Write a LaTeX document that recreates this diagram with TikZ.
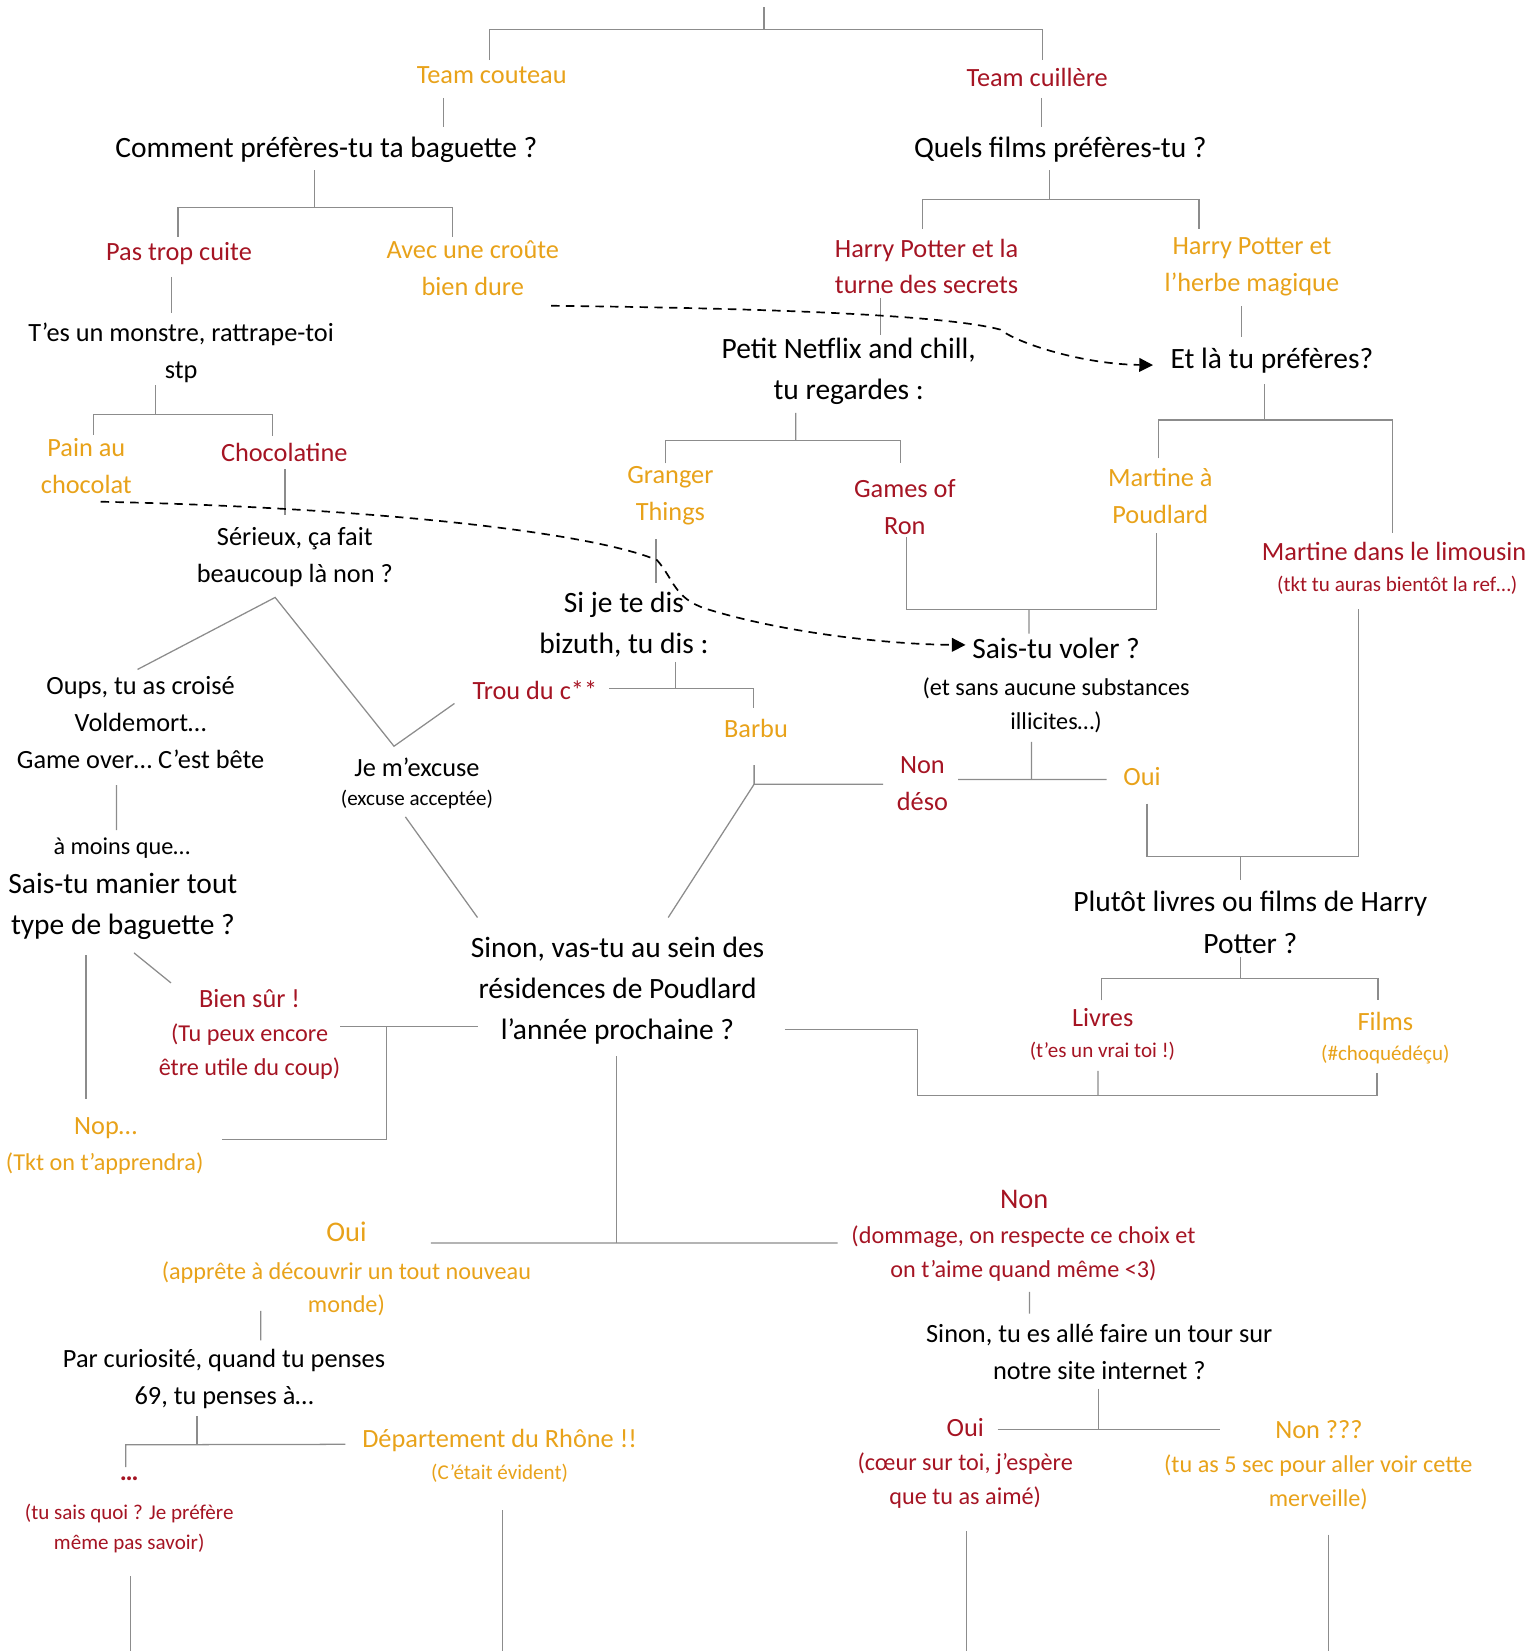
\documentclass[tikz,border=0pt]{standalone}
\usepackage{fontspec}
\setmainfont{Carlito}
\usetikzlibrary{calc,arrows.meta}
\definecolor{ocre}{RGB}{232,162,26}
\definecolor{bordeaux}{RGB}{165,20,35}
\definecolor{trait}{RGB}{140,140,140}
\tikzset{
  every node/.style={align=center, inner sep=0pt},
  quest/.style={font=\fontsize{14}{19.5}\selectfont},
  questp/.style={font=\fontsize{12.5}{17.6}\selectfont},
  rep/.style={font=\fontsize{12.5}{17.5}\selectfont},
  repg/.style={font=\fontsize{13.5}{18}\selectfont},
  note/.style={font=\fontsize{11.5}{16}\selectfont},
  petit/.style={font=\fontsize{10}{14.2}\selectfont},
  jaune/.style={text=ocre},
  rouge/.style={text=bordeaux},
  lien/.style={draw=trait, line width=0.6pt},
  saut/.style={draw=black, line width=0.8pt, dash pattern=on 4pt off 3pt, -{Triangle[length=6.5pt,width=6.5pt]}},
}
\begin{document}
\begin{tikzpicture}[x=0.5pt, y=-0.5pt]
\useasboundingbox (0,0) rectangle (1462,1568);

% questions et reponses
\node[rep,jaune] (tcout) at (467,71) {Team couteau};
\node[rep,rouge] (tcuil) at (985,73.5) {Team cuillère};
\node[quest] (comment) at (310,142.5) {Comment préfères-tu ta baguette ?};
\node[quest] (quels) at (1007,142.5) {Quels films préfères-tu ?};
\node[rep,rouge] (pastrop) at (170,240.7) {Pas trop cuite};
\node[rep,jaune] (croute) at (449,255) {Avec une croûte\\bien dure};
\node[rep,rouge] (hpturne) at (880,253) {Harry Potter et la\\turne des secrets};
\node[rep,jaune] (hpherbe) at (1189,253.7) {Harry Potter et\\l’herbe magique};
\node[questp] (monstre) at (172,335) {T’es un monstre, rattrape-toi\\stp};
\node[quest] (netflix) at (806,353) {Petit Netflix and chill,\\tu regardes :};
\node[quest] (etla) at (1208,342.6) {Et là tu préfères?};
\node[rep,jaune] (pain) at (82,442.5) {Pain au\\chocolat};
\node[rep,rouge] (choco) at (270,429.7) {Chocolatine};
\node[rep,jaune] (granger) at (636.7,471) {Granger\\Things};
\node[rep,rouge] (games) at (859.3,481.2) {Games of\\Ron};
\node[rep,jaune] (martP) at (1102,471) {Martine à\\Poudlard};
\node[rep,rouge] (martL) at (1324,524) {Martine dans le limousin};
\node[petit,rouge] (martLn) at (1327,555.7) {(tkt tu auras bientôt la ref…)};
\node[questp] (serieux) at (280,529) {Sérieux, ça fait\\beaucoup là non ?};
\node[quest] (sijete) at (592.6,593) {Si je te dis\\bizuth, tu dis :};
\node[quest] (voler) at (1003,616) {Sais-tu voler ?};
\node[note] (volern) at (1003,670) {(et sans aucune substances\\illicites…)};
\node[questp] (oups) at (133.5,686.5) {Oups, tu as croisé\\Voldemort…\\Game over… C’est bête};
\node[rep,rouge] (trou) at (508,655.5) {Trou du c**};
\node[rep,jaune] (barbu) at (718,692) {Barbu};
\node[questp] (excuse) at (396,728.3) {Je m’excuse};
\node[petit] (excusen) at (396,759.3) {(excuse acceptée)};
\node[rep,rouge] (deso) at (876,744) {Non\\déso};
\node[rep,jaune] (ouiA) at (1084.6,737.8) {Oui};
\node[note] (amoins) at (115.7,805.8) {à moins que…};
\node[quest] (manier) at (116.7,861) {Sais-tu manier tout\\type de baguette ?};
\node[quest] (sinon) at (586.5,941) {Sinon, vas-tu au sein des\\résidences de Poudlard\\l’année prochaine ?};
\node[quest] (plutot) at (1187.5,876) {Plutôt livres ou films de Harry\\Potter ?};
\node[rep,rouge] (bien) at (237,948.4) {Bien sûr !};
\node[note,rouge] (bienn) at (237,998.5) {(Tu peux encore\\être utile du coup)};
\node[rep,rouge] (livres) at (1047.3,966.4) {Livres};
\node[petit,rouge] (livresn) at (1047,998) {(t’es un vrai toi !)};
\node[rep,jaune] (films) at (1315.7,970) {Films};
\node[petit,jaune] (filmsn) at (1315.7,1002) {(\#choquédéçu)};
\node[rep,jaune] (nop) at (100.3,1071.8) {Nop…};
\node[note,jaune] (nopn) at (99.4,1105) {(Tkt on t’apprendra)};
\node[repg,rouge] (nonB) at (972.7,1139.3) {Non};
\node[note,rouge] (nonBn) at (972,1190.5) {(dommage, on respecte ce choix et\\on t’aime quand même <3)};
\node[repg,jaune] (ouiB) at (329,1170) {Oui};
\node[note,jaune] (ouiBn) at (329,1224) {(apprête à découvrir un tout nouveau\\monde)};
\node[questp] (curio) at (212.8,1309.4) {Par curiosité, quand tu penses\\69, tu penses à…};
\node[questp] (site) at (1044,1284) {Sinon, tu es allé faire un tour sur\\notre site internet ?};
\node[rep,jaune] (rhone) at (474.5,1368) {Département du Rhône !!};
\node[petit,jaune] (rhonen) at (474.5,1399.6) {(C’était évident)};
\node[rep,rouge] (dots) at (122.7,1404) {\textbf{…}};
\node[petit,rouge] (dotsn) at (122.7,1452) {(tu sais quoi ? Je préfère\\même pas savoir)};
\node[rep,rouge] (ouiC) at (916.7,1356) {Oui};
\node[note,rouge] (ouiCn) at (916.7,1406) {(cœur sur toi, j’espère\\que tu as aimé)};
\node[rep,jaune] (nonC) at (1252.6,1357.8) {Non ???};
\node[note,jaune] (nonCn) at (1252,1407.5) {(tu as 5 sec pour aller voir cette\\merveille)};

% embranchements
\coordinate (fTeam) at (725.5,28);
\coordinate (fBag) at (299,197);
\coordinate (fFilm) at (997,189.3);
\coordinate (fPain) at (148,393.6);
\coordinate (fNet) at (755.7,418.6);
\coordinate (fEt) at (1201,399);
\coordinate (fVol) at (977.3,578.8);
\coordinate (fBiz) at (641.5,654);
\coordinate (fBarbu) at (716.2,744.8);
\coordinate (fSais) at (979.7,740.3);
\coordinate (fPlu) at (1178.4,813.2);
\coordinate (fSin) at (367.2,974.6);
\coordinate (fHP) at (1178.4,929.4);
\coordinate (fLF) at (1042.7,1040.2);
\coordinate (fNon) at (585.6,1180.5);
\coordinate (fCur) at (187.1,1372);
\coordinate (fSite) at (1043,1357.5);

% haut
\draw[lien] (fTeam) -- ++(0,-21);
\draw[lien] ($(tcout)+(-2,-14)$) |- (fTeam) -| ($(tcuil)+(5,-16.5)$);
\draw[lien] ($(tcout)+(-46,22)$) -- ($(comment)+(111,-21.5)$);
\draw[lien] ($(tcuil)+(4,19.5)$) -- ($(quels)+(-18,-21.5)$);

% branche couteau
\draw[lien] ($(comment)+(-11,19)$) -- (fBag);
\draw[lien] ($(pastrop)+(-1,-15.7)$) |- (fBag) -| ($(croute)+(-19,-30)$);
\draw[lien] ($(pastrop)+(-7,22.3)$) -- ($(monstre)+(-9,-37.5)$);
\draw[lien] ($(monstre)+(-24,31)$) -- (fPain);
\draw[lien] ($(pain)+(7,-29.5)$) |- (fPain) -| ($(choco)+(-11,-15.7)$);
\draw[lien] ($(choco)+(0.6,15.9)$) -- ($(serieux)+(-9.4,-40)$);
\draw[lien] ($(oups)+(-2.9,-50.7)$) -- ($(serieux)+(-18.7,38.4)$) -- ($(excuse)+(-21.8,-19.6)$) -- ($(trou)+(-76.4,12.6)$);
\draw[lien] ($(oups)+(-22.9,59.2)$) -- ($(amoins)+(-5.1,-17.3)$);
\draw[lien] ($(excusen)+(-11,16.5)$) -- ($(sinon)+(-133,-69.6)$);
\draw[lien] ($(manier)+(-35,46.2)$) -- ($(nop)+(-18.6,-28.5)$);
\draw[lien] ($(manier)+(10.6,44)$) -- ($(bien)+(-74.6,-14.9)$);
\draw[lien] ($(bienn)+(86.3,-23.9)$) -- ($(sinon)+(-133,33.6)$);
\draw[lien] (fSin) |- ($(nop)+(110.6,10.5)$);

% branche cuillere
\draw[lien] ($(quels)+(-10,19)$) -- (fFilm);
\draw[lien] ($(hpturne)+(-4,-35.5)$) |- (fFilm) -| ($(hpherbe)+(-50.2,-36.2)$);
\draw[lien] ($(hpturne)+(-43.5,30.4)$) -- ($(netflix)+(30.5,-35)$);
\draw[lien] ($(hpherbe)+(-9.6,37)$) -- ($(etla)+(-28.6,-22.8)$);
\draw[lien] ($(netflix)+(-50.3,39)$) -- (fNet);
\draw[lien] ($(granger)+(-4.7,-31)$) |- (fNet) -| ($(games)+(-4.3,-41.2)$);
\draw[lien] ($(etla)+(-7,22.4)$) -- (fEt);
\draw[lien] ($(martP)+(-2,-35.6)$) |- (fEt) -| ($(martL)+(-1.4,-17.4)$);
\draw[lien] ($(granger)+(-13.7,41)$) -- ($(sijete)+(30.4,-39)$);
\draw[lien] ($(games)+(1.4,28.6)$) |- (fVol) -| ($(martP)+(-3.4,35.6)$);
\draw[lien] (fVol) -- ($(voler)+(-25.7,-14.3)$);
\draw[lien] ($(sijete)+(48.9,35.5)$) -- (fBiz);
\draw[lien] ($(trou)+(70.5,-1.5)$) -- (fBiz) -| ($(barbu)+(-2.7,-19.4)$);
\draw[lien] ($(barbu)+(-1.8,34.7)$) -- (fBarbu) -- ($(deso)+(-37.2,0.8)$);
\draw[lien] (fBarbu) -- ($(sinon)+(48.1,-69.6)$);
\draw[lien] ($(volern)+(-23.3,34.5)$) -- (fSais);
\draw[lien] ($(deso)+(34,-3.7)$) -- (fSais) -- ($(ouiA)+(-33.6,2.5)$);
\draw[lien] ($(ouiA)+(4.7,25.3)$) |- (fPlu) -| ($(martLn)+(-37,23.1)$);
\draw[lien] (fPlu) -- ($(plutot)+(-9.1,-40.7)$);
\draw[lien] ($(plutot)+(-9.1,32.8)$) -- (fHP);
\draw[lien] ($(livres)+(-0.9,-16.4)$) |- (fHP) -| ($(films)+(-7,-20)$);
\draw[lien] ($(sinon)+(158.9,36.5)$) -- ++(126,0) |- (fLF) -| ($(filmsn)+(-8,16.7)$);
\draw[lien] ($(livresn)+(-4.3,19)$) -- (fLF);

% bas
\draw[lien] ($(sinon)+(-0.9,62.1)$) -- (fNon);
\draw[lien] ($(ouiB)+(80.2,10.5)$) -- (fNon) -- ($(nonB)+(-177.3,41.2)$);
\draw[lien] ($(nonBn)+(5.8,36.5)$) -- ($(site)+(-66.2,-36.4)$);
\draw[lien] ($(ouiBn)+(-81.3,21)$) -- ($(curio)+(34.9,-36.4)$);
\draw[lien] ($(curio)+(-25.7,35.4)$) -- (fCur);
\draw[lien] ($(dots)+(-3.3,-10.7)$) |- (fCur) -- ($(rhone)+(-146.5,3.7)$);
\draw[lien] ($(site)+(-1,34.8)$) -- (fSite);
\draw[lien] ($(ouiC)+(30.8,1.5)$) -- (fSite) -- ($(nonC)+(-94.2,-0.3)$);
\draw[lien] ($(dotsn)+(0.9,44.8)$) -- ++(0,72);
\draw[lien] ($(rhonen)+(2.8,34.8)$) -- ++(0,134);
\draw[lien] ($(ouiCn)+(0.9,48.4)$) -- ++(0,114);
\draw[lien] ($(nonCn)+(9.5,50)$) -- ++(0,111);

% renvois
\draw[saut] ($(croute)+(74.4,35.4)$) .. controls (750,293) and (900,300) .. (950,313) .. controls (968,327) and (1030,346) .. ($(etla)+(-113,4.1)$);
\draw[saut] ($(pain)+(13.6,34)$) .. controls (350,482) and (560,505) .. (624,532) .. controls (640,550) and (640,568) .. (670,578) .. controls (740,600) and (840,612) .. ($(voler)+(-86,-3.5)$);
\end{tikzpicture}
\end{document}
